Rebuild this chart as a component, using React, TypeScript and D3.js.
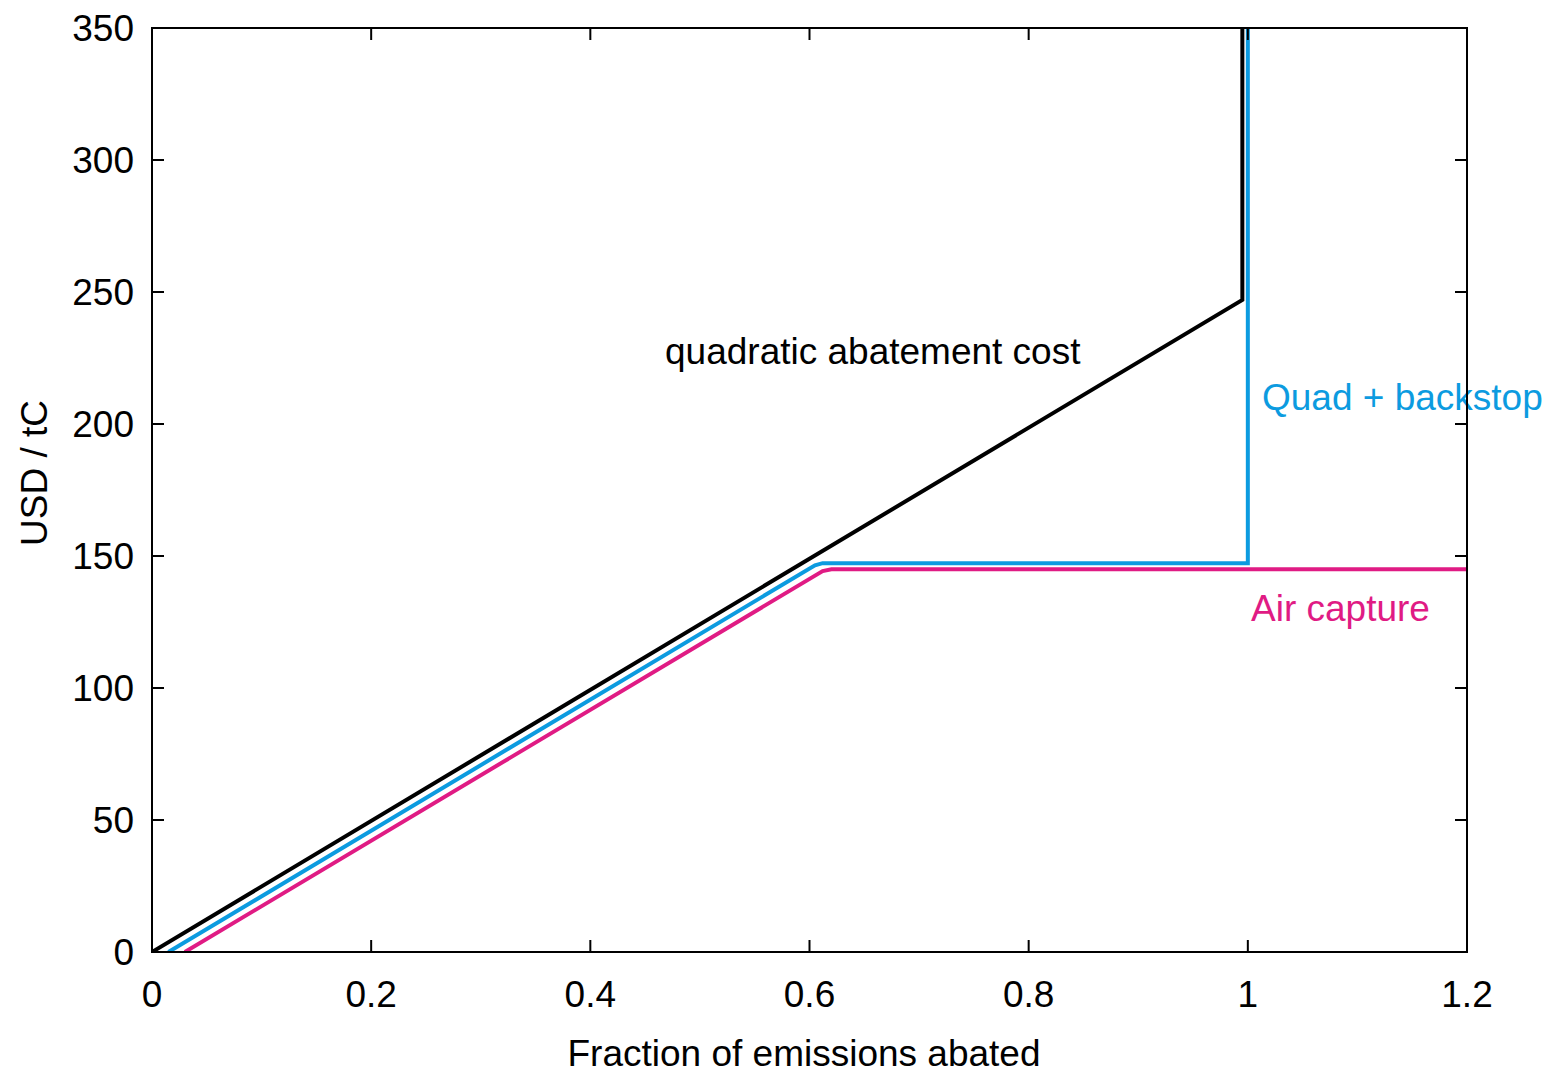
import React, { useEffect, useRef } from "react";
import * as d3 from "d3";

// curve vertices: [fraction abated, USD/tC]
const quadX = [0, 0.995, 0.995];
const quadY = [0, 247, 350];
const backstopX = [0.015, 0.605, 0.612, 1.0, 1.0];
const backstopY = [0, 146.5, 147.3, 147.3, 350];
const airX = [0.03, 0.612, 0.62, 1.2];
const airY = [0, 144.3, 145, 145];

const xTicks = [0, 0.2, 0.4, 0.6, 0.8, 1, 1.2];
const yTicks = [0, 50, 100, 150, 200, 250, 300, 350];

const App = () => {
  const svgRef = useRef<SVGSVGElement>(null);

  useEffect(() => {
    document.body.style.margin = "0";
    const svg = d3.select(svgRef.current);
    svg.selectAll("*").remove();

    const width = 1558;
    const height = 1076;
    const left = 152, right = 1467, top = 28, bottom = 952;
    const font = "'Liberation Sans', Arial, sans-serif";
    const fontSize = "37px";

    const x = d3.scaleLinear().domain([0, 1.2]).range([left, right]);
    const y = d3.scaleLinear().domain([0, 350]).range([bottom, top]);

    svg.attr("width", width).attr("height", height);

    const line = d3.line<[number, number]>()
      .x((d) => x(d[0]))
      .y((d) => y(d[1]));

    const series = [
      { xs: airX, ys: airY, color: "#e01b84" },
      { xs: backstopX, ys: backstopY, color: "#0c9be0" },
      { xs: quadX, ys: quadY, color: "#000000" },
    ];

    const clip = svg.append("clipPath").attr("id", "plot-clip");
    clip.append("rect")
      .attr("x", left)
      .attr("y", top)
      .attr("width", right - left)
      .attr("height", bottom - top);

    series.forEach((s) => {
      const pts = s.xs.map((v, i) => [v, s.ys[i]] as [number, number]);
      svg.append("path")
        .attr("clip-path", "url(#plot-clip)")
        .attr("d", line(pts))
        .attr("fill", "none")
        .attr("stroke", s.color)
        .attr("stroke-width", 4)
        .attr("stroke-linejoin", "miter");
    });

    // in-plot labels
    const labels = [
      { text: "quadratic abatement cost", px: 665, py: 364, color: "#000" },
      { text: "Quad + backstop", px: 1262, py: 410, color: "#0c9be0" },
      { text: "Air capture", px: 1251, py: 621, color: "#e01b84" },
    ];
    labels.forEach((l) => {
      svg.append("text")
        .attr("x", l.px)
        .attr("y", l.py)
        .style("font-family", font)
        .style("font-size", fontSize)
        .style("fill", l.color)
        .text(l.text);
    });

    // ticks, mirrored on all sides, pointing inward
    const tickLen = 12;
    const ticks = svg.append("g").attr("stroke", "#000").attr("stroke-width", 2);
    xTicks.forEach((t) => {
      ticks.append("line").attr("x1", x(t)).attr("x2", x(t)).attr("y1", bottom).attr("y2", bottom - tickLen);
      ticks.append("line").attr("x1", x(t)).attr("x2", x(t)).attr("y1", top).attr("y2", top + tickLen);
    });
    yTicks.forEach((t) => {
      ticks.append("line").attr("x1", left).attr("x2", left + tickLen).attr("y1", y(t)).attr("y2", y(t));
      ticks.append("line").attr("x1", right).attr("x2", right - tickLen).attr("y1", y(t)).attr("y2", y(t));
    });

    // frame
    svg.append("rect")
      .attr("x", left)
      .attr("y", top)
      .attr("width", right - left)
      .attr("height", bottom - top)
      .attr("fill", "none")
      .attr("stroke", "#000")
      .attr("stroke-width", 2);

    // tick labels
    xTicks.forEach((t) => {
      svg.append("text")
        .attr("x", x(t))
        .attr("y", 1007)
        .attr("text-anchor", "middle")
        .style("font-family", font)
        .style("font-size", fontSize)
        .text(d3.format("~g")(t));
    });
    yTicks.forEach((t) => {
      svg.append("text")
        .attr("x", 134)
        .attr("y", y(t))
        .attr("dy", "0.35em")
        .attr("text-anchor", "end")
        .style("font-family", font)
        .style("font-size", fontSize)
        .text(t);
    });

    // axis titles
    svg.append("text")
      .attr("x", 804)
      .attr("y", 1066)
      .attr("text-anchor", "middle")
      .style("font-family", font)
      .style("font-size", fontSize)
      .text("Fraction of emissions abated");

    svg.append("text")
      .attr("transform", "translate(47, 473) rotate(-90)")
      .attr("text-anchor", "middle")
      .style("font-family", font)
      .style("font-size", fontSize)
      .text("USD / tC");
  }, []);

  return <svg ref={svgRef} style={{ display: "block" }}></svg>;
};

export default App;
